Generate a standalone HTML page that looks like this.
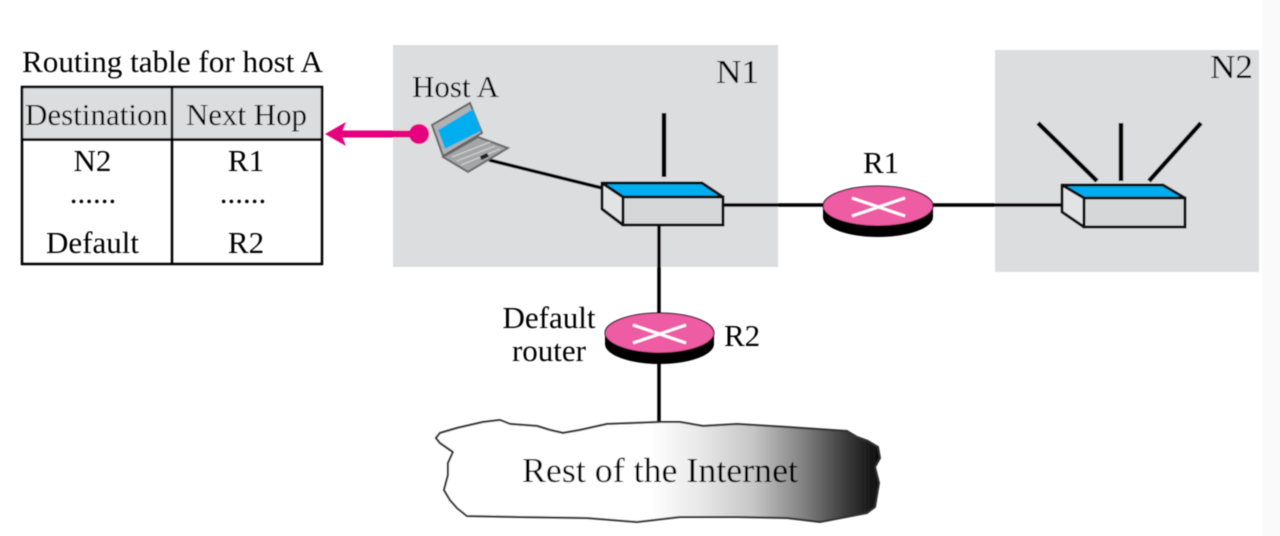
<!DOCTYPE html>
<html><head><meta charset="utf-8"><style>
html,body{margin:0;padding:0;background:#fff;width:1280px;height:536px;overflow:hidden}
svg{display:block}
text{font-family:"Liberation Serif",serif;font-size:31px;fill:#000}
</style></head><body>
<svg width="1280" height="536" viewBox="0 0 1280 536" xmlns="http://www.w3.org/2000/svg">
<defs>
<filter id="b" x="-2%" y="-2%" width="104%" height="104%"><feGaussianBlur stdDeviation="0.65"/></filter>
<linearGradient id="g" gradientUnits="userSpaceOnUse" x1="650" y1="0" x2="880" y2="0">
<stop offset="0" stop-color="#fff"/><stop offset="0.22" stop-color="#e8e8e8"/><stop offset="0.45" stop-color="#c6c6c6"/><stop offset="0.67" stop-color="#808080"/><stop offset="0.85" stop-color="#3c3c3c"/><stop offset="1" stop-color="#0c0c0c"/>
</linearGradient>
</defs>
<rect width="1280" height="536" fill="#fff"/>
<rect x="1262" y="0" width="18" height="536" fill="#fafafa"/>
<g filter="url(#b)">
<rect x="393" y="45" width="385" height="222" fill="#dcddde"/>
<rect x="995" y="50" width="264" height="222" fill="#dcddde"/>

<!-- table -->
<rect x="22" y="87" width="300" height="53" fill="#dcddde"/>
<rect x="22" y="87" width="300" height="177" fill="none" stroke="#000" stroke-width="2.500"/>
<line x1="22" y1="139.500" x2="322" y2="139.500" stroke="#000" stroke-width="2.500"/>
<line x1="172" y1="87" x2="172" y2="264" stroke="#000" stroke-width="2.500"/>
<text x="22" y="72" textLength="301" lengthAdjust="spacingAndGlyphs">Routing table for host A</text>
<text x="25" y="125" textLength="143" lengthAdjust="spacingAndGlyphs">Destination</text>
<text x="186" y="125" textLength="121" lengthAdjust="spacingAndGlyphs">Next Hop</text>
<text x="92.500" y="171" text-anchor="middle">N2</text>
<text x="246" y="171" text-anchor="middle">R1</text>
<text x="93" y="203" text-anchor="middle">......</text>
<text x="243" y="203" text-anchor="middle">......</text>
<text x="92.500" y="253" text-anchor="middle">Default</text>
<text x="246" y="253" text-anchor="middle">R2</text>

<!-- arrow -->
<line x1="340" y1="134" x2="419" y2="134" stroke="#e6007e" stroke-width="7"/>
<circle cx="419" cy="134" r="10" fill="#e6007e"/>
<path d="M325 134 L346 122 L341 134 L346 146 Z" fill="#e6007e"/>

<!-- labels -->
<text x="412" y="97" textLength="87" lengthAdjust="spacingAndGlyphs">Host A</text>
<text x="716" y="83" textLength="43" lengthAdjust="spacingAndGlyphs" style="font-size:34px">N1</text>
<text x="1210" y="78" textLength="43" lengthAdjust="spacingAndGlyphs" style="font-size:34px">N2</text>
<text x="863" y="173">R1</text>
<text x="724" y="346">R2</text>
<text x="549" y="328" text-anchor="middle">Default</text>
<text x="549" y="361" text-anchor="middle">router</text>

<!-- links -->
<g stroke="#000" stroke-width="3.500" fill="none">
<line x1="489" y1="160" x2="602" y2="188"/>
<line x1="722" y1="205" x2="830" y2="205"/>
<line x1="930" y1="205" x2="1062" y2="205"/>
<line x1="659" y1="225" x2="659" y2="320"/>
<line x1="659" y1="360" x2="659" y2="424"/>
</g>
<g stroke="#000" stroke-width="4.500" fill="none">
<line x1="664" y1="113" x2="664" y2="177"/>
<line x1="1038" y1="123" x2="1097" y2="181"/>
<line x1="1121" y1="123" x2="1121" y2="181"/>
<line x1="1201" y1="123" x2="1149" y2="181"/>
</g>

<!-- switch 1 -->
<polygon points="602,183 702,183 723,197 623,197" fill="#00aeef" stroke="#111" stroke-width="3" stroke-linejoin="round"/>
<polygon points="602,183 623,197 623,225 602,209" fill="#e2e3e4" stroke="#111" stroke-width="3" stroke-linejoin="round"/>
<rect x="623" y="197" width="100" height="28" fill="#d6d7d8" stroke="#111" stroke-width="3"/>
<!-- switch 2 -->
<polygon points="1062,185 1163,185 1185,198 1084,198" fill="#00aeef" stroke="#111" stroke-width="3" stroke-linejoin="round"/>
<polygon points="1062,185 1084,198 1084,227 1062,212" fill="#e2e3e4" stroke="#111" stroke-width="3" stroke-linejoin="round"/>
<rect x="1084" y="198" width="101" height="29" fill="#d6d7d8" stroke="#111" stroke-width="3"/>

<!-- routers -->
<g>
<path d="M605 333 V343 A54.500 20 0 0 0 714 343 V333 Z" fill="#000"/>
<ellipse cx="659.500" cy="344" rx="54.500" ry="20" fill="#000"/>
<ellipse cx="659.500" cy="333" rx="54.500" ry="20" fill="#ee5ba3" stroke="#111" stroke-width="1"/>
<path d="M633 325 L686 343 M633 343 L686 325" stroke="#fff" stroke-width="3" fill="none"/>
</g>
<g>
<path d="M823 206 V216 A55 20 0 0 0 933 216 V206 Z" fill="#000"/>
<ellipse cx="878" cy="217" rx="55" ry="20" fill="#000"/>
<ellipse cx="878" cy="206" rx="55" ry="20" fill="#ee5ba3" stroke="#111" stroke-width="1"/>
<path d="M852 198 L905 216 M852 216 L905 198" stroke="#fff" stroke-width="3" fill="none"/>
</g>

<!-- laptop -->
<polygon points="443,157 478,137 508,148 468,172" fill="#a4a5a7" stroke="#6a6a6a" stroke-width="2"/>
<polygon points="432,125 470,103 482,133 443,156" fill="#b0b1b3" stroke="#666" stroke-width="2"/>
<polygon points="438,130 473,109 481,131 445,149" fill="#00aeef"/>
<g stroke="#d4d5d6" stroke-width="1.200">
<line x1="452" y1="157" x2="490" y2="142"/>
<line x1="457" y1="161" x2="495" y2="146"/>
<line x1="461" y1="165" x2="500" y2="149"/>
</g>
<rect x="480" y="155" width="8" height="4" fill="#222" transform="rotate(-25 483 156)"/>

<!-- cloud -->
<path d="M436 438 L440 433 L457 428 L470 425 L483 422 L500 420 L510 424 L537 426 L550 430 L563 433 L580 430 L607 424 L635 423 L660 422 L680 422 L703 426 L737 424 L787 427 L847 431 L857 437 L868 441 L878 447 L880 458 L875 467 L879 483 L877 495 L875 507 L867 513 L820 522 L787 518 L737 517 L680 517 L637 522 L587 518 L520 517 L467 516 L457 508 L450 500 L444 490 L448 475 L448 463 L453 452 L440 443 Z" fill="url(#g)" stroke="#333" stroke-width="2" stroke-linejoin="round"/>
<text x="522" y="482" textLength="276" lengthAdjust="spacingAndGlyphs" style="font-size:35px">Rest of the Internet</text>
</g>
</svg>
</body></html>
